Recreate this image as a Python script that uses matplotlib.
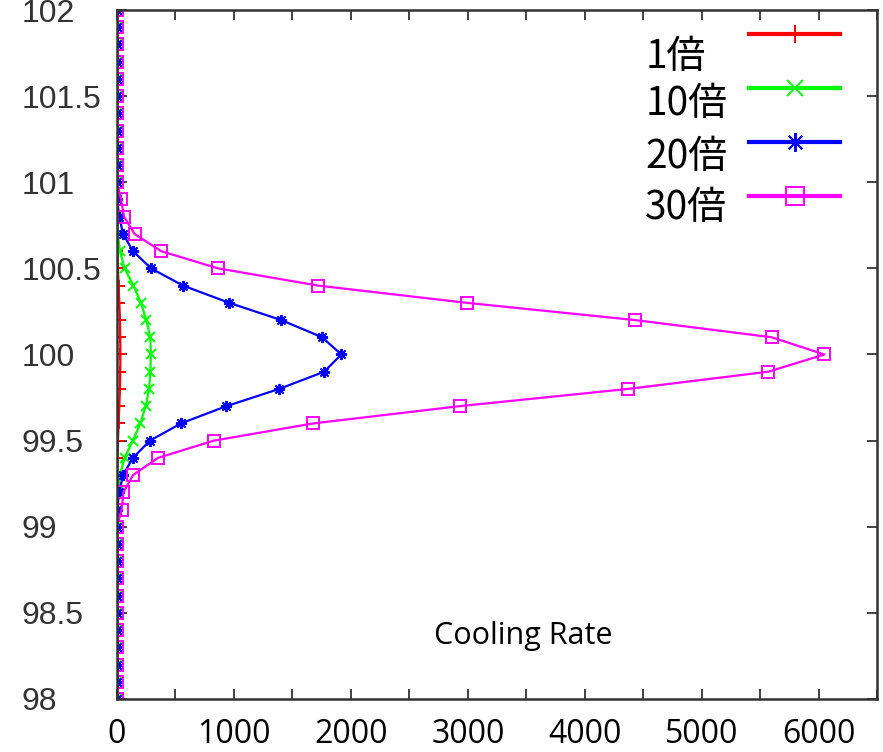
import matplotlib.pyplot as plt
from matplotlib.ticker import MultipleLocator, FuncFormatter

# temperature levels (y) and cooling rate of each multiple (x)
temp = [98.0, 98.1, 98.2, 98.3, 98.4, 98.5, 98.6, 98.7, 98.8, 98.9,
        99.0, 99.1, 99.2, 99.3, 99.4, 99.5, 99.6, 99.7, 99.8, 99.9,
        100.0, 100.1, 100.2, 100.3, 100.4, 100.5, 100.6, 100.7, 100.8, 100.9,
        101.0, 101.1, 101.2, 101.3, 101.4, 101.5, 101.6, 101.7, 101.8, 101.9,
        102.0]
rate_1 = [0, 0, 0, 0, 0, 0, 0, 0, 0, 0,
          0, 0, 1, 2, 4, 8, 14, 20, 25, 28,
          29, 28, 25, 20, 14, 8, 4, 2, 1, 0,
          0, 0, 0, 0, 0, 0, 0, 0, 0, 0,
          0]
rate_10 = [0, 0, 0, 0, 0, 0, 0, 0, 0, 0,
           0, 0, 8, 25, 65, 135, 200, 245, 275, 285,
           290, 285, 250, 205, 140, 65, 25, 8, 3, 0,
           0, 0, 0, 0, 0, 0, 0, 0, 0, 0,
           0]
rate_20 = [0, 0, 0, 0, 0, 0, 0, 0, 0, 0,
           0, 0, 20, 51, 137, 282, 548, 935, 1387, 1772,
           1918, 1755, 1404, 959, 565, 291, 137, 51, 20, 0,
           0, 0, 0, 0, 0, 0, 0, 0, 0, 0,
           0]
rate_30 = [0, 0, 0, 0, 0, 0, 0, 0, 0, 0,
           0, 40, 55, 137, 351, 830, 1680, 2930, 4370, 5570,
           6050, 5600, 4430, 2990, 1720, 865, 377, 150, 60, 35,
           0, 0, 0, 0, 0, 0, 0, 0, 0, 0,
           0]

labels = ['1倍', '10倍', '20倍', '30倍']
colors = ['#ff0000', '#00ff00', '#0000ff', '#ff00ff']
markers = ['+', 'x', (8, 2, 0), 's']
sizes = [8, 7, 8, 8]

fig = plt.figure(figsize=(8.83, 7.52), dpi=100)
ax = fig.add_axes([0.1325, 0.0705, 0.8607, 0.9162])

lines = []
for vals, lab, c, m, s in zip([rate_1, rate_10, rate_20, rate_30], labels, colors, markers, sizes):
    ln, = ax.plot(vals, temp, color=c, marker=m, ms=s, mew=1.4,
                  mfc='none' if m == 's' else c, lw=1.6, label=lab)
    lines.append(ln)

ax.set_xlim(0, 6500)
ax.set_ylim(98, 102)
ax.xaxis.set_major_locator(MultipleLocator(1000))
ax.xaxis.set_minor_locator(MultipleLocator(500))
ax.yaxis.set_major_locator(MultipleLocator(0.5))
ax.yaxis.set_major_formatter(FuncFormatter(lambda v, p: f'{v:g}'))

for sp in ax.spines.values():
    sp.set_color('#333333')
    sp.set_linewidth(1.8)
ax.tick_params(which='both', direction='in', top=True, right=True,
               length=7, width=1.3, color='#333333')
ax.tick_params(axis='x', which='major', pad=14, labelsize=23)
ax.tick_params(axis='y', pad=69, labelsize=23, labelcolor='#333333')
plt.setp(ax.get_yticklabels(), ha='left', family='Liberation Sans')
plt.setp(ax.get_xticklabels(), family='Open Sans')

# legend keys only; the names sit to their left, a little lower, as in the source
leg = ax.legend(lines, [''] * len(lines), loc='upper right', bbox_to_anchor=(0.951, 0.988),
                frameon=False, prop={'family': 'Noto Sans CJK JP', 'size': 26},
                handlelength=2.5, handletextpad=0, labelspacing=0.5,
                markerscale=1.7, borderpad=0, borderaxespad=0)
for line in leg.get_lines():
    line.set_linewidth(3)

label_y = [0.932, 0.864, 0.787, 0.713]
for lab, y in zip(labels, label_y):
    ax.text(0.695, y, lab, transform=ax.transAxes, ha='left', va='center',
            fontsize=28, family='Noto Sans CJK JP')

ax.text(0.534, 0.0914, 'Cooling Rate', transform=ax.transAxes, ha='center', va='center',
        fontsize=22, family='Open Sans')

fig.savefig('out.png', dpi=100)
